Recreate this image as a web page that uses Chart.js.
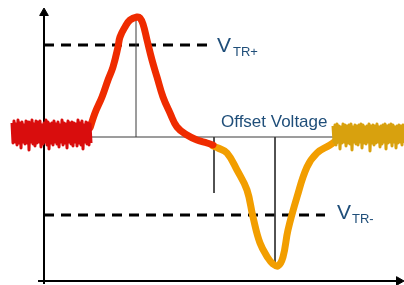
<!DOCTYPE html>
<html>
<head>
<meta charset="utf-8">
<script src="https://cdn.jsdelivr.net/npm/chart.js@4/dist/chart.umd.min.js"></script>
<style>
  body { margin: 0; background: #fff; }
  canvas { display: block; }
</style>
</head>
<body>
<canvas id="myChart" width="404" height="285"></canvas>
<script>
// signal: x = time (arbitrary), y = voltage (baseline = 0)
var noiseInX = [12,13,14,15,16,17,18,19,20,21,22,23,24,25,26,27,28,29,30,31,32,33,34,35,36,37,38,39,40,41,
  42,43,44,45,46,47,48,49,50,51,52,53,54,55,56,57,58,59,60,61,62,63,64,65,66,67,68,69,70,71,
  72,73,74,75,76,77,78,79,80,81,82,83,84,85,86,87,88,89,90,91];
var noiseInY = [14,-6,16,-5,13,-8,17,-6,14,-11,15,-5,12,-7,16,-6,15,-13,14,-5,17,-7,13,-9,16,-6,15,-5,16,-10,
  12,-7,14,-5,17,-8,15,-12,13,-6,14,-8,16,-5,13,-7,15,-10,12,-5,17,-8,14,-6,13,-11,16,-5,14,-7,
  15,-9,14,-5,13,-9,17,-6,14,-8,16,-12,12,-5,15,-7,14,-8,13,-6];

var riseX = [90,95,102,108,113,118,120,125,130,137,140,143,147,152,157,163,170,177,187,197,207,213];
var riseY = [9,24,40,57,70,90,100,110,117,120,119,113,97,77,60,40,24,10,2,-3,-6,-8];

var dipX = [213,218,227,237,247,253,260,268,273,278,283,288,297,307,317,330,337];
var dipY = [-9,-11,-16,-33,-53,-80,-106,-121,-127,-129,-120,-93,-60,-30,-16,-8,-3];

var noiseOutX = [333,334,335,336,337,338,339,340,341,342,343,344,345,346,347,348,349,350,351,352,353,354,355,356,
  357,358,359,360,361,362,363,364,365,366,367,368,369,370,371,372,373,374,375,376,377,378,379,380,
  381,382,383,384,385,386,387,388,389,390,391,392,393,394,395,396,397,398,399,400,401,402,403,404];
var noiseOutY = [11,-5,12,-8,13,-5,11,-12,10,-6,13,-5,12,-9,11,-6,12,-7,13,-13,10,-5,12,-7,
  11,-8,12,-5,13,-11,12,-6,10,-7,11,-5,13,-14,11,-6,12,-8,11,-6,13,-5,10,-10,
  11,-7,12,-5,13,-12,11,-6,12,-5,13,-9,12,-5,10,-11,11,-6,12,-5,11,-8,12,-6];

var vtrPlus = 92;
var vtrMinus = -78;
var vtrPlusEnd = 208;
var vtrMinusEnd = 325;

var peakX = 136, peakY = 120;
var offsetX = 214, offsetY = -56;
var troughX = 275, troughY = -131;
var baselineEnd = 335;

var axisX = 44, axisBottom = -144;

function pts(xs, ys) {
  return xs.map(function (x, i) { return { x: x, y: ys[i] }; });
}

var black = '#000';
var thin = '#3a3a3a';
var blue = '#1f4e79';

var labels = [
  { text: 'Offset Voltage', x: 221, y: 10, font: '17px "Liberation Sans", Arial, sans-serif' },
  { text: 'V', x: 217, y: 85, font: '21px "Liberation Sans", Arial, sans-serif' },
  { text: 'TR+', x: 233, y: 81, font: '13px "Liberation Sans", Arial, sans-serif' },
  { text: 'V', x: 337, y: -82, font: '21px "Liberation Sans", Arial, sans-serif' },
  { text: 'TR-', x: 352, y: -86, font: '13px "Liberation Sans", Arial, sans-serif' }
];

var textPlugin = {
  id: 'texts',
  afterDatasetsDraw: function (chart) {
    var c = chart.ctx;
    var sx = chart.scales.x, sy = chart.scales.y;
    c.save();
    c.fillStyle = blue;
    c.textBaseline = 'alphabetic';
    labels.forEach(function (l) {
      c.font = l.font;
      c.fillText(l.text, sx.getPixelForValue(l.x), sy.getPixelForValue(l.y));
    });
    c.restore();
  }
};

function line(data, color, width, order, extra) {
  var d = { data: data, borderColor: color, backgroundColor: color, borderWidth: width,
            pointRadius: 0, tension: 0, fill: false, order: order, clip: false };
  for (var k in extra) d[k] = extra[k];
  return d;
}

var ctx = document.getElementById('myChart');
var myChart = new Chart(ctx, {
  type: 'line',
  data: {
    datasets: [
      // axes
      line([{ x: axisX, y: axisBottom - 3 }, { x: axisX, y: 122 }], black, 2, 9),
      line([{ x: 38, y: axisBottom }, { x: 398, y: axisBottom }], black, 2, 9),
      line([{ x: axisX, y: 124 }], black, 1, 8, { pointStyle: 'triangle', pointRadius: 5, pointRotation: 0, borderWidth: 1 }),
      line([{ x: 399, y: axisBottom }], black, 1, 8, { pointStyle: 'triangle', pointRadius: 5, pointRotation: 90, borderWidth: 1 }),
      // thresholds
      line([{ x: axisX, y: vtrPlus }, { x: vtrPlusEnd, y: vtrPlus }], black, 3, 7, { borderDash: [10, 7] }),
      line([{ x: axisX, y: vtrMinus }, { x: vtrMinusEnd, y: vtrMinus }], black, 3, 7, { borderDash: [10, 7] }),
      // helper lines
      line([{ x: axisX, y: 0 }, { x: baselineEnd, y: 0 }], thin, 1, 6),
      line([{ x: peakX, y: 0 }, { x: peakX, y: peakY }], thin, 1, 6),
      line([{ x: offsetX, y: 0 }, { x: offsetX, y: offsetY }], thin, 1, 6),
      line([{ x: troughX, y: 0 }, { x: troughX, y: troughY }], thin, 1, 6),
      // signal
      line(pts(dipX, dipY), '#f29e00', 7, 3, { tension: 0.4, borderCapStyle: 'round', borderJoinStyle: 'round' }),
      line(pts(riseX, riseY), '#ef2b00', 7, 2, { tension: 0.4, borderCapStyle: 'round', borderJoinStyle: 'round' }),
      line(pts(noiseInX, noiseInY), '#d90d0d', 3, 1, { borderJoinStyle: 'round' }),
      line(pts(noiseOutX, noiseOutY), '#d8a10e', 3, 1, { borderJoinStyle: 'round' })
    ]
  },
  options: {
    responsive: false,
    animation: false,
    layout: { padding: 0, autoPadding: false },
    scales: {
      x: { type: 'linear', min: 0, max: 404, display: false },
      y: { type: 'linear', min: -148, max: 137, display: false }
    },
    plugins: {
      legend: { display: false },
      tooltip: { enabled: false },
      title: { display: false }
    }
  },
  plugins: [textPlugin]
});
</script>
</body>
</html>
